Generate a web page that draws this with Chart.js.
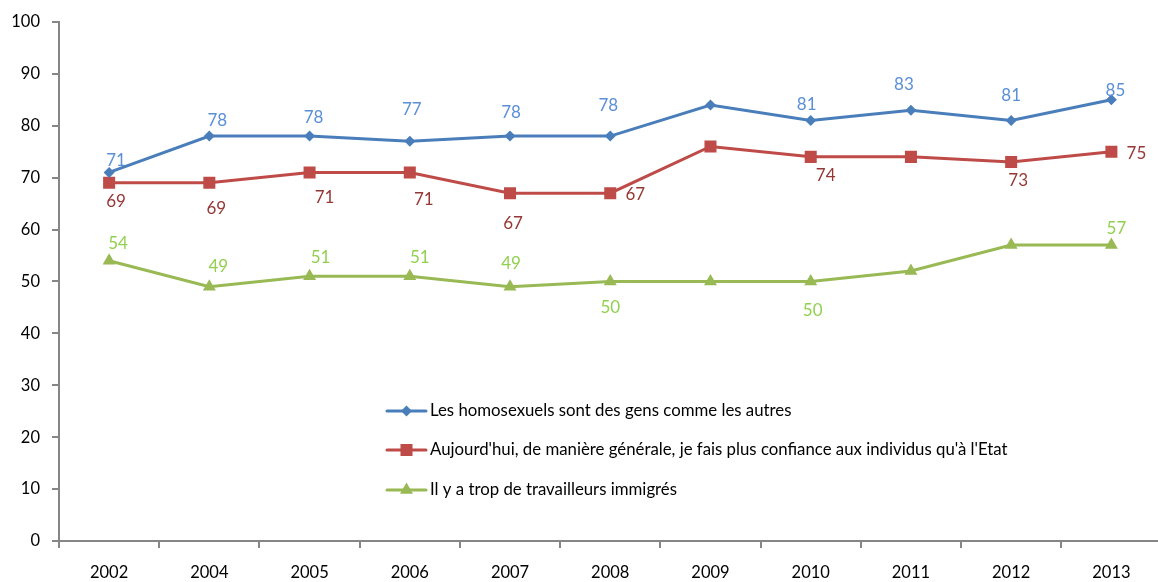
<!DOCTYPE html>
<html lang="fr">
<head>
<meta charset="utf-8">
<title>Opinions 2002-2013</title>
<script src="https://cdn.jsdelivr.net/npm/chart.js@4/dist/chart.umd.min.js"></script>
<style>
  html, body { margin: 0; padding: 0; background: #ffffff; overflow: hidden; }
  #wrap { width: 1170px; height: 582px; }
</style>
</head>
<body>
<div id="wrap"><canvas id="c" width="1170" height="582"></canvas></div>
<script>
// Survey years and series (%)
const years = ['2002', '2004', '2005', '2006', '2007', '2008', '2009', '2010', '2011', '2012', '2013'];
const homosexuels = [71, 78, 78, 77, 78, 78, 84, 81, 83, 81, 85];
const confiance = [69, 69, 71, 71, 67, 67, 76, 74, 74, 73, 75];
const immigres = [54, 49, 51, 51, 49, 50, 50, 50, 52, 57, 57];
const seriesNames = [
  'Les homosexuels sont des gens comme les autres',
  "Aujourd'hui, de manière générale, je fais plus confiance aux individus qu'à l'Etat",
  'Il y a trop de travailleurs immigrés'
];
const yTicks = [0, 10, 20, 30, 40, 50, 60, 70, 80, 90, 100];

// Where each value label sits relative to its point (null = no label)
const offsetsHomo = [[7,-12],[8,-16],[4,-19],[2,-32],[1,-24],[-2,-31],null,[-4,-16],[-7,-26],[0,-25],[4,-9]];
const offsetsConf = [[7,19],[7,26],[15,25],[14,27],[3,30],[25,1],null,[15,19],null,[7,18],[25,2]];
const offsetsImm = [[9,-17],[9,-20],[11,-19],[10,-19],[1,-23],[0,26],null,[2,29],null,null,[5,-17]];

const FONT = 'Lato, "Open Sans", sans-serif';
const AXIS_GREY = '#868686';

const valueLabels = {
  id: 'valueLabels',
  afterDatasetsDraw(chart) {
    const ctx = chart.ctx;
    ctx.save();
    ctx.font = '17px ' + FONT;
    ctx.textAlign = 'center';
    ctx.textBaseline = 'middle';
    chart.data.datasets.forEach((ds, i) => {
      const meta = chart.getDatasetMeta(i);
      meta.data.forEach((pt, j) => {
        const off = ds.labelOffsets[j];
        if (!off) return;
        ctx.fillStyle = ds.labelColor;
        ctx.fillText(String(ds.data[j]), pt.x + off[0], pt.y + off[1]);
      });
    });
    ctx.restore();
  }
};

// Legend drawn inside the plot area, one row per series
const innerLegend = {
  id: 'innerLegend',
  afterDraw(chart) {
    const ctx = chart.ctx;
    const x0 = 387, x1 = 426, textX = 430;
    const rows = [411, 450, 490];
    ctx.save();
    chart.data.datasets.forEach((ds, i) => {
      const y = rows[i];
      ctx.strokeStyle = ds.borderColor;
      ctx.lineWidth = 3;
      ctx.lineCap = 'round';
      ctx.beginPath();
      ctx.moveTo(x0, y);
      ctx.lineTo(x1, y);
      ctx.stroke();
      ctx.fillStyle = ds.pointBackgroundColor;
      Chart.helpers.drawPoint(ctx, {
        pointStyle: ds.pointStyle,
        radius: ds.pointRadius,
        borderWidth: 0
      }, (x0 + x1) / 2, y);
      ctx.fillStyle = '#000000';
      ctx.font = '16.8px ' + FONT;
      ctx.textAlign = 'left';
      ctx.textBaseline = 'middle';
      ctx.fillText(ds.label, textX, y);
    });
    ctx.restore();
  }
};

function series(label, data, color, labelColor, style, radius, offsets) {
  return {
    label: label,
    data: data,
    borderColor: color,
    backgroundColor: color,
    pointBackgroundColor: color,
    pointBorderColor: color,
    pointBorderWidth: 0,
    pointStyle: style,
    pointRadius: radius,
    pointHoverRadius: radius,
    borderWidth: 3,
    tension: 0,
    labelColor: labelColor,
    labelOffsets: offsets
  };
}

new Chart(document.getElementById('c'), {
  type: 'line',
  data: {
    labels: years,
    datasets: [
      series(seriesNames[0], homosexuels, '#4A7EBB', '#5B8FD6', 'rectRot', 5.5, offsetsHomo),
      series(seriesNames[1], confiance, '#BE4B48', '#953735', 'rect', 8.5, offsetsConf),
      series(seriesNames[2], immigres, '#98B954', '#92D050', 'triangle', 7.5, offsetsImm)
    ]
  },
  options: {
    responsive: false,
    devicePixelRatio: 1,
    animation: false,
    events: [],
    layout: { padding: { top: 18.7, right: 4.4, left: 0, bottom: 0 } },
    plugins: { legend: { display: false }, tooltip: { enabled: false } },
    scales: {
      x: {
        type: 'category',
        offset: true,
        afterFit: s => { s.height = 41; },
        grid: {
          offset: true,
          drawOnChartArea: false,
          drawTicks: true,
          tickLength: 7,
          color: AXIS_GREY,
          lineWidth: 2
        },
        border: { display: true, color: AXIS_GREY, width: 2 },
        ticks: {
          color: '#000000',
          font: { family: FONT, size: 16.5 },
          padding: 15,
          maxRotation: 0,
          autoSkip: false
        }
      },
      y: {
        min: 0,
        max: 100,
        afterFit: s => { s.width = 59; },
        afterBuildTicks: s => { s.ticks = yTicks.map(v => ({ value: v })); },
        grid: {
          drawOnChartArea: false,
          drawTicks: true,
          tickLength: 7,
          color: AXIS_GREY,
          lineWidth: 2
        },
        border: { display: true, color: AXIS_GREY, width: 2 },
        ticks: {
          color: '#000000',
          font: { family: FONT, size: 16.5 },
          padding: 12
        }
      }
    }
  },
  plugins: [valueLabels, innerLegend]
});
</script>
</body>
</html>
